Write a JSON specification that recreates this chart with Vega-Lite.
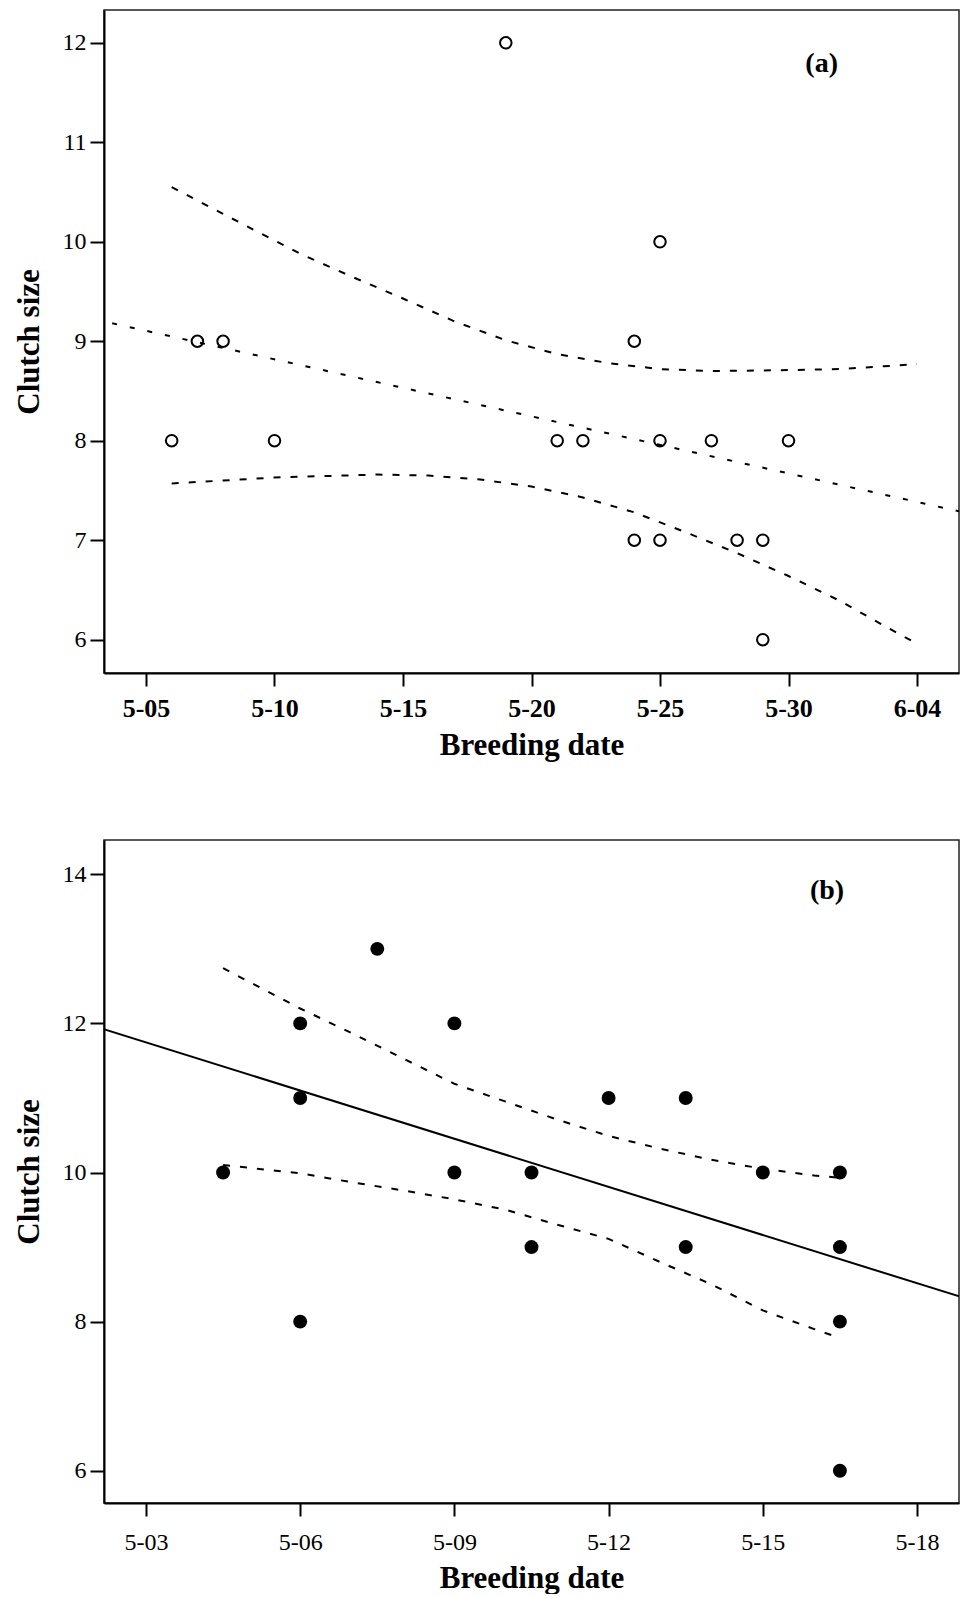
{
  "$schema": "https://vega.github.io/schema/vega-lite/v6.json",
  "background": "white",
  "padding": {"left": 12, "top": 9, "right": 4, "bottom": 0},
  "spacing": 78,
  "config": {
    "font": "Liberation Serif",
    "view": {"stroke": "#222", "strokeWidth": 1.5},
    "axis": {
      "domainColor": "black", "domainWidth": 2, "tickColor": "black", "tickWidth": 2,
      "grid": false, "labelColor": "black", "titleColor": "black",
      "labelFont": "Liberation Serif", "titleFont": "Liberation Serif",
      "titleFontWeight": "bold", "titleFontSize": 31, "labelOverlap": false, "labelFlush": false, "labelBound": false
    }
  },
  "datasets": {
    "a_points": [
      {"date": "2020-05-06", "clutch": 8}, {"date": "2020-05-07", "clutch": 9}, {"date": "2020-05-08", "clutch": 9},
      {"date": "2020-05-10", "clutch": 8}, {"date": "2020-05-19", "clutch": 12}, {"date": "2020-05-21", "clutch": 8},
      {"date": "2020-05-22", "clutch": 8}, {"date": "2020-05-24", "clutch": 9}, {"date": "2020-05-24", "clutch": 7},
      {"date": "2020-05-25", "clutch": 10}, {"date": "2020-05-25", "clutch": 8}, {"date": "2020-05-25", "clutch": 7},
      {"date": "2020-05-27", "clutch": 8}, {"date": "2020-05-28", "clutch": 7}, {"date": "2020-05-29", "clutch": 7},
      {"date": "2020-05-29", "clutch": 6}, {"date": "2020-05-30", "clutch": 8}
    ],
    "a_lines": [
      {"line": "fit", "date": "2020-05-03", "clutch": 9.22}, {"line": "fit", "date": "2020-06-06", "clutch": 7.27},
      {"line": "upper", "date": "2020-05-06", "clutch": 10.55}, {"line": "upper", "date": "2020-05-08", "clutch": 10.28},
      {"line": "upper", "date": "2020-05-11", "clutch": 9.88}, {"line": "upper", "date": "2020-05-13", "clutch": 9.65},
      {"line": "upper", "date": "2020-05-15", "clutch": 9.43}, {"line": "upper", "date": "2020-05-17", "clutch": 9.2},
      {"line": "upper", "date": "2020-05-19", "clutch": 9.01}, {"line": "upper", "date": "2020-05-21", "clutch": 8.87},
      {"line": "upper", "date": "2020-05-23", "clutch": 8.78}, {"line": "upper", "date": "2020-05-25", "clutch": 8.72},
      {"line": "upper", "date": "2020-05-27", "clutch": 8.7}, {"line": "upper", "date": "2020-05-30", "clutch": 8.71},
      {"line": "upper", "date": "2020-06-01", "clutch": 8.72}, {"line": "upper", "date": "2020-06-04", "clutch": 8.77},
      {"line": "lower", "date": "2020-05-06", "clutch": 7.57}, {"line": "lower", "date": "2020-05-10", "clutch": 7.63},
      {"line": "lower", "date": "2020-05-14", "clutch": 7.66}, {"line": "lower", "date": "2020-05-16", "clutch": 7.65},
      {"line": "lower", "date": "2020-05-18", "clutch": 7.61}, {"line": "lower", "date": "2020-05-20", "clutch": 7.54},
      {"line": "lower", "date": "2020-05-22", "clutch": 7.43}, {"line": "lower", "date": "2020-05-24", "clutch": 7.28},
      {"line": "lower", "date": "2020-05-26", "clutch": 7.08}, {"line": "lower", "date": "2020-05-28", "clutch": 6.87},
      {"line": "lower", "date": "2020-05-30", "clutch": 6.64}, {"line": "lower", "date": "2020-06-01", "clutch": 6.39},
      {"line": "lower", "date": "2020-06-03", "clutch": 6.1}, {"line": "lower", "date": "2020-06-04", "clutch": 5.96}
    ],
    "a_label": [{"date": "2020-05-31T07:00:00Z", "clutch": 11.79, "label": "(a)"}],
    "b_points": [
      {"date": "2020-05-04T12:00:00Z", "clutch": 10}, {"date": "2020-05-06T00:00:00Z", "clutch": 12},
      {"date": "2020-05-06T00:00:00Z", "clutch": 11}, {"date": "2020-05-06T00:00:00Z", "clutch": 8},
      {"date": "2020-05-07T12:00:00Z", "clutch": 13}, {"date": "2020-05-09T00:00:00Z", "clutch": 12},
      {"date": "2020-05-09T00:00:00Z", "clutch": 10}, {"date": "2020-05-10T12:00:00Z", "clutch": 10},
      {"date": "2020-05-10T12:00:00Z", "clutch": 9}, {"date": "2020-05-12T00:00:00Z", "clutch": 11},
      {"date": "2020-05-13T12:00:00Z", "clutch": 11}, {"date": "2020-05-13T12:00:00Z", "clutch": 9},
      {"date": "2020-05-15T00:00:00Z", "clutch": 10}, {"date": "2020-05-16T12:00:00Z", "clutch": 10},
      {"date": "2020-05-16T12:00:00Z", "clutch": 9}, {"date": "2020-05-16T12:00:00Z", "clutch": 8},
      {"date": "2020-05-16T12:00:00Z", "clutch": 6}
    ],
    "b_lines": [
      {"line": "fit", "date": "2020-05-02T00:00:00Z", "clutch": 11.96}, {"line": "fit", "date": "2020-05-19T00:00:00Z", "clutch": 8.3},
      {"line": "upper", "date": "2020-05-04T12:00:00Z", "clutch": 12.74}, {"line": "upper", "date": "2020-05-05T12:00:00Z", "clutch": 12.38},
      {"line": "upper", "date": "2020-05-06T00:00:00Z", "clutch": 12.2}, {"line": "upper", "date": "2020-05-07T00:00:00Z", "clutch": 11.87},
      {"line": "upper", "date": "2020-05-08T00:00:00Z", "clutch": 11.53}, {"line": "upper", "date": "2020-05-09T00:00:00Z", "clutch": 11.19},
      {"line": "upper", "date": "2020-05-10T00:00:00Z", "clutch": 10.95}, {"line": "upper", "date": "2020-05-11T00:00:00Z", "clutch": 10.71},
      {"line": "upper", "date": "2020-05-12T00:00:00Z", "clutch": 10.49}, {"line": "upper", "date": "2020-05-13T00:00:00Z", "clutch": 10.32},
      {"line": "upper", "date": "2020-05-14T00:00:00Z", "clutch": 10.17}, {"line": "upper", "date": "2020-05-15T00:00:00Z", "clutch": 10.05},
      {"line": "upper", "date": "2020-05-16T00:00:00Z", "clutch": 9.96}, {"line": "upper", "date": "2020-05-16T12:00:00Z", "clutch": 9.93},
      {"line": "lower", "date": "2020-05-04T12:00:00Z", "clutch": 10.1}, {"line": "lower", "date": "2020-05-06T00:00:00Z", "clutch": 9.99},
      {"line": "lower", "date": "2020-05-07T00:00:00Z", "clutch": 9.87}, {"line": "lower", "date": "2020-05-08T00:00:00Z", "clutch": 9.76},
      {"line": "lower", "date": "2020-05-09T00:00:00Z", "clutch": 9.64}, {"line": "lower", "date": "2020-05-10T00:00:00Z", "clutch": 9.5},
      {"line": "lower", "date": "2020-05-11T00:00:00Z", "clutch": 9.3}, {"line": "lower", "date": "2020-05-12T00:00:00Z", "clutch": 9.11},
      {"line": "lower", "date": "2020-05-13T00:00:00Z", "clutch": 8.8}, {"line": "lower", "date": "2020-05-14T00:00:00Z", "clutch": 8.5},
      {"line": "lower", "date": "2020-05-15T00:00:00Z", "clutch": 8.15}, {"line": "lower", "date": "2020-05-16T00:00:00Z", "clutch": 7.9},
      {"line": "lower", "date": "2020-05-16T12:00:00Z", "clutch": 7.78}
    ],
    "b_label": [{"date": "2020-05-16T06:00:00Z", "clutch": 13.77, "label": "(b)"}]
  },
  "vconcat": [
    {
      "width": 855,
      "height": 663,
      "encoding": {
        "x": {
          "field": "date", "type": "temporal", "title": "Breeding date",
          "scale": {"type": "utc", "domain": [
            {"year": 2020, "month": 5, "date": 3, "hours": 8, "minutes": 47, "utc": true},
            {"year": 2020, "month": 6, "date": 5, "hours": 15, "minutes": 13, "utc": true}
          ]},
          "axis": {
            "values": [
              {"year": 2020, "month": 5, "date": 5, "utc": true},
              {"year": 2020, "month": 5, "date": 10, "utc": true},
              {"year": 2020, "month": 5, "date": 15, "utc": true},
              {"year": 2020, "month": 5, "date": 20, "utc": true},
              {"year": 2020, "month": 5, "date": 25, "utc": true},
              {"year": 2020, "month": 5, "date": 30, "utc": true},
              {"year": 2020, "month": 6, "date": 4, "utc": true}
            ],
            "format": "%-m-%d", "labelFontWeight": "bold", "labelFontSize": 26,
            "tickSize": 13, "labelPadding": 9, "titlePadding": 9
          }
        },
        "y": {
          "field": "clutch", "type": "quantitative", "title": "Clutch size",
          "scale": {"domain": [5.665, 12.33], "nice": false, "zero": false},
          "axis": {"values": [6, 7, 8, 9, 10, 11, 12], "labelFontSize": 24, "tickSize": 14, "labelPadding": 4, "titlePadding": 17}
        }
      },
      "layer": [
        {
          "data": {"name": "a_lines"},
          "transform": [{"filter": "datum.line == 'fit'"}],
          "mark": {"type": "line", "clip": true, "strokeWidth": 2, "color": "black", "strokeDash": [5, 13]}
        },
        {
          "data": {"name": "a_lines"},
          "transform": [{"filter": "datum.line != 'fit'"}],
          "mark": {"type": "line", "clip": true, "strokeWidth": 2, "color": "black", "strokeDash": [7, 10]},
          "encoding": {"detail": {"field": "line", "type": "nominal"}}
        },
        {
          "data": {"name": "a_points"},
          "mark": {"type": "point", "shape": "circle", "filled": false, "size": 133, "strokeWidth": 2, "color": "black", "opacity": 1}
        },
        {
          "data": {"name": "a_label"},
          "mark": {"type": "text", "fontWeight": "bold", "fontSize": 28, "align": "center", "baseline": "middle", "color": "black"},
          "encoding": {"text": {"field": "label"}}
        }
      ]
    },
    {
      "width": 855,
      "height": 663,
      "encoding": {
        "x": {
          "field": "date", "type": "temporal", "title": "Breeding date",
          "scale": {"type": "utc", "domain": [
            {"year": 2020, "month": 5, "date": 2, "hours": 4, "minutes": 24, "utc": true},
            {"year": 2020, "month": 5, "date": 18, "hours": 19, "minutes": 36, "utc": true}
          ]},
          "axis": {
            "values": [
              {"year": 2020, "month": 5, "date": 3, "utc": true},
              {"year": 2020, "month": 5, "date": 6, "utc": true},
              {"year": 2020, "month": 5, "date": 9, "utc": true},
              {"year": 2020, "month": 5, "date": 12, "utc": true},
              {"year": 2020, "month": 5, "date": 15, "utc": true},
              {"year": 2020, "month": 5, "date": 18, "utc": true}
            ],
            "format": "%-m-%d", "labelFontSize": 24,
            "tickSize": 13, "labelPadding": 14, "titlePadding": 9
          }
        },
        "y": {
          "field": "clutch", "type": "quantitative", "title": "Clutch size",
          "scale": {"domain": [5.567, 14.46], "nice": false, "zero": false},
          "axis": {"values": [6, 8, 10, 12, 14], "labelFontSize": 24, "tickSize": 14, "labelPadding": 4, "titlePadding": 17}
        }
      },
      "layer": [
        {
          "data": {"name": "b_lines"},
          "transform": [{"filter": "datum.line == 'fit'"}],
          "mark": {"type": "line", "clip": true, "strokeWidth": 2, "color": "black"}
        },
        {
          "data": {"name": "b_lines"},
          "transform": [{"filter": "datum.line != 'fit'"}],
          "mark": {"type": "line", "clip": true, "strokeWidth": 2, "color": "black", "strokeDash": [7, 10]},
          "encoding": {"detail": {"field": "line", "type": "nominal"}}
        },
        {
          "data": {"name": "b_points"},
          "mark": {"type": "point", "shape": "circle", "filled": true, "size": 194, "color": "black", "opacity": 1}
        },
        {
          "data": {"name": "b_label"},
          "mark": {"type": "text", "fontWeight": "bold", "fontSize": 28, "align": "center", "baseline": "middle", "color": "black"},
          "encoding": {"text": {"field": "label"}}
        }
      ]
    }
  ]
}
